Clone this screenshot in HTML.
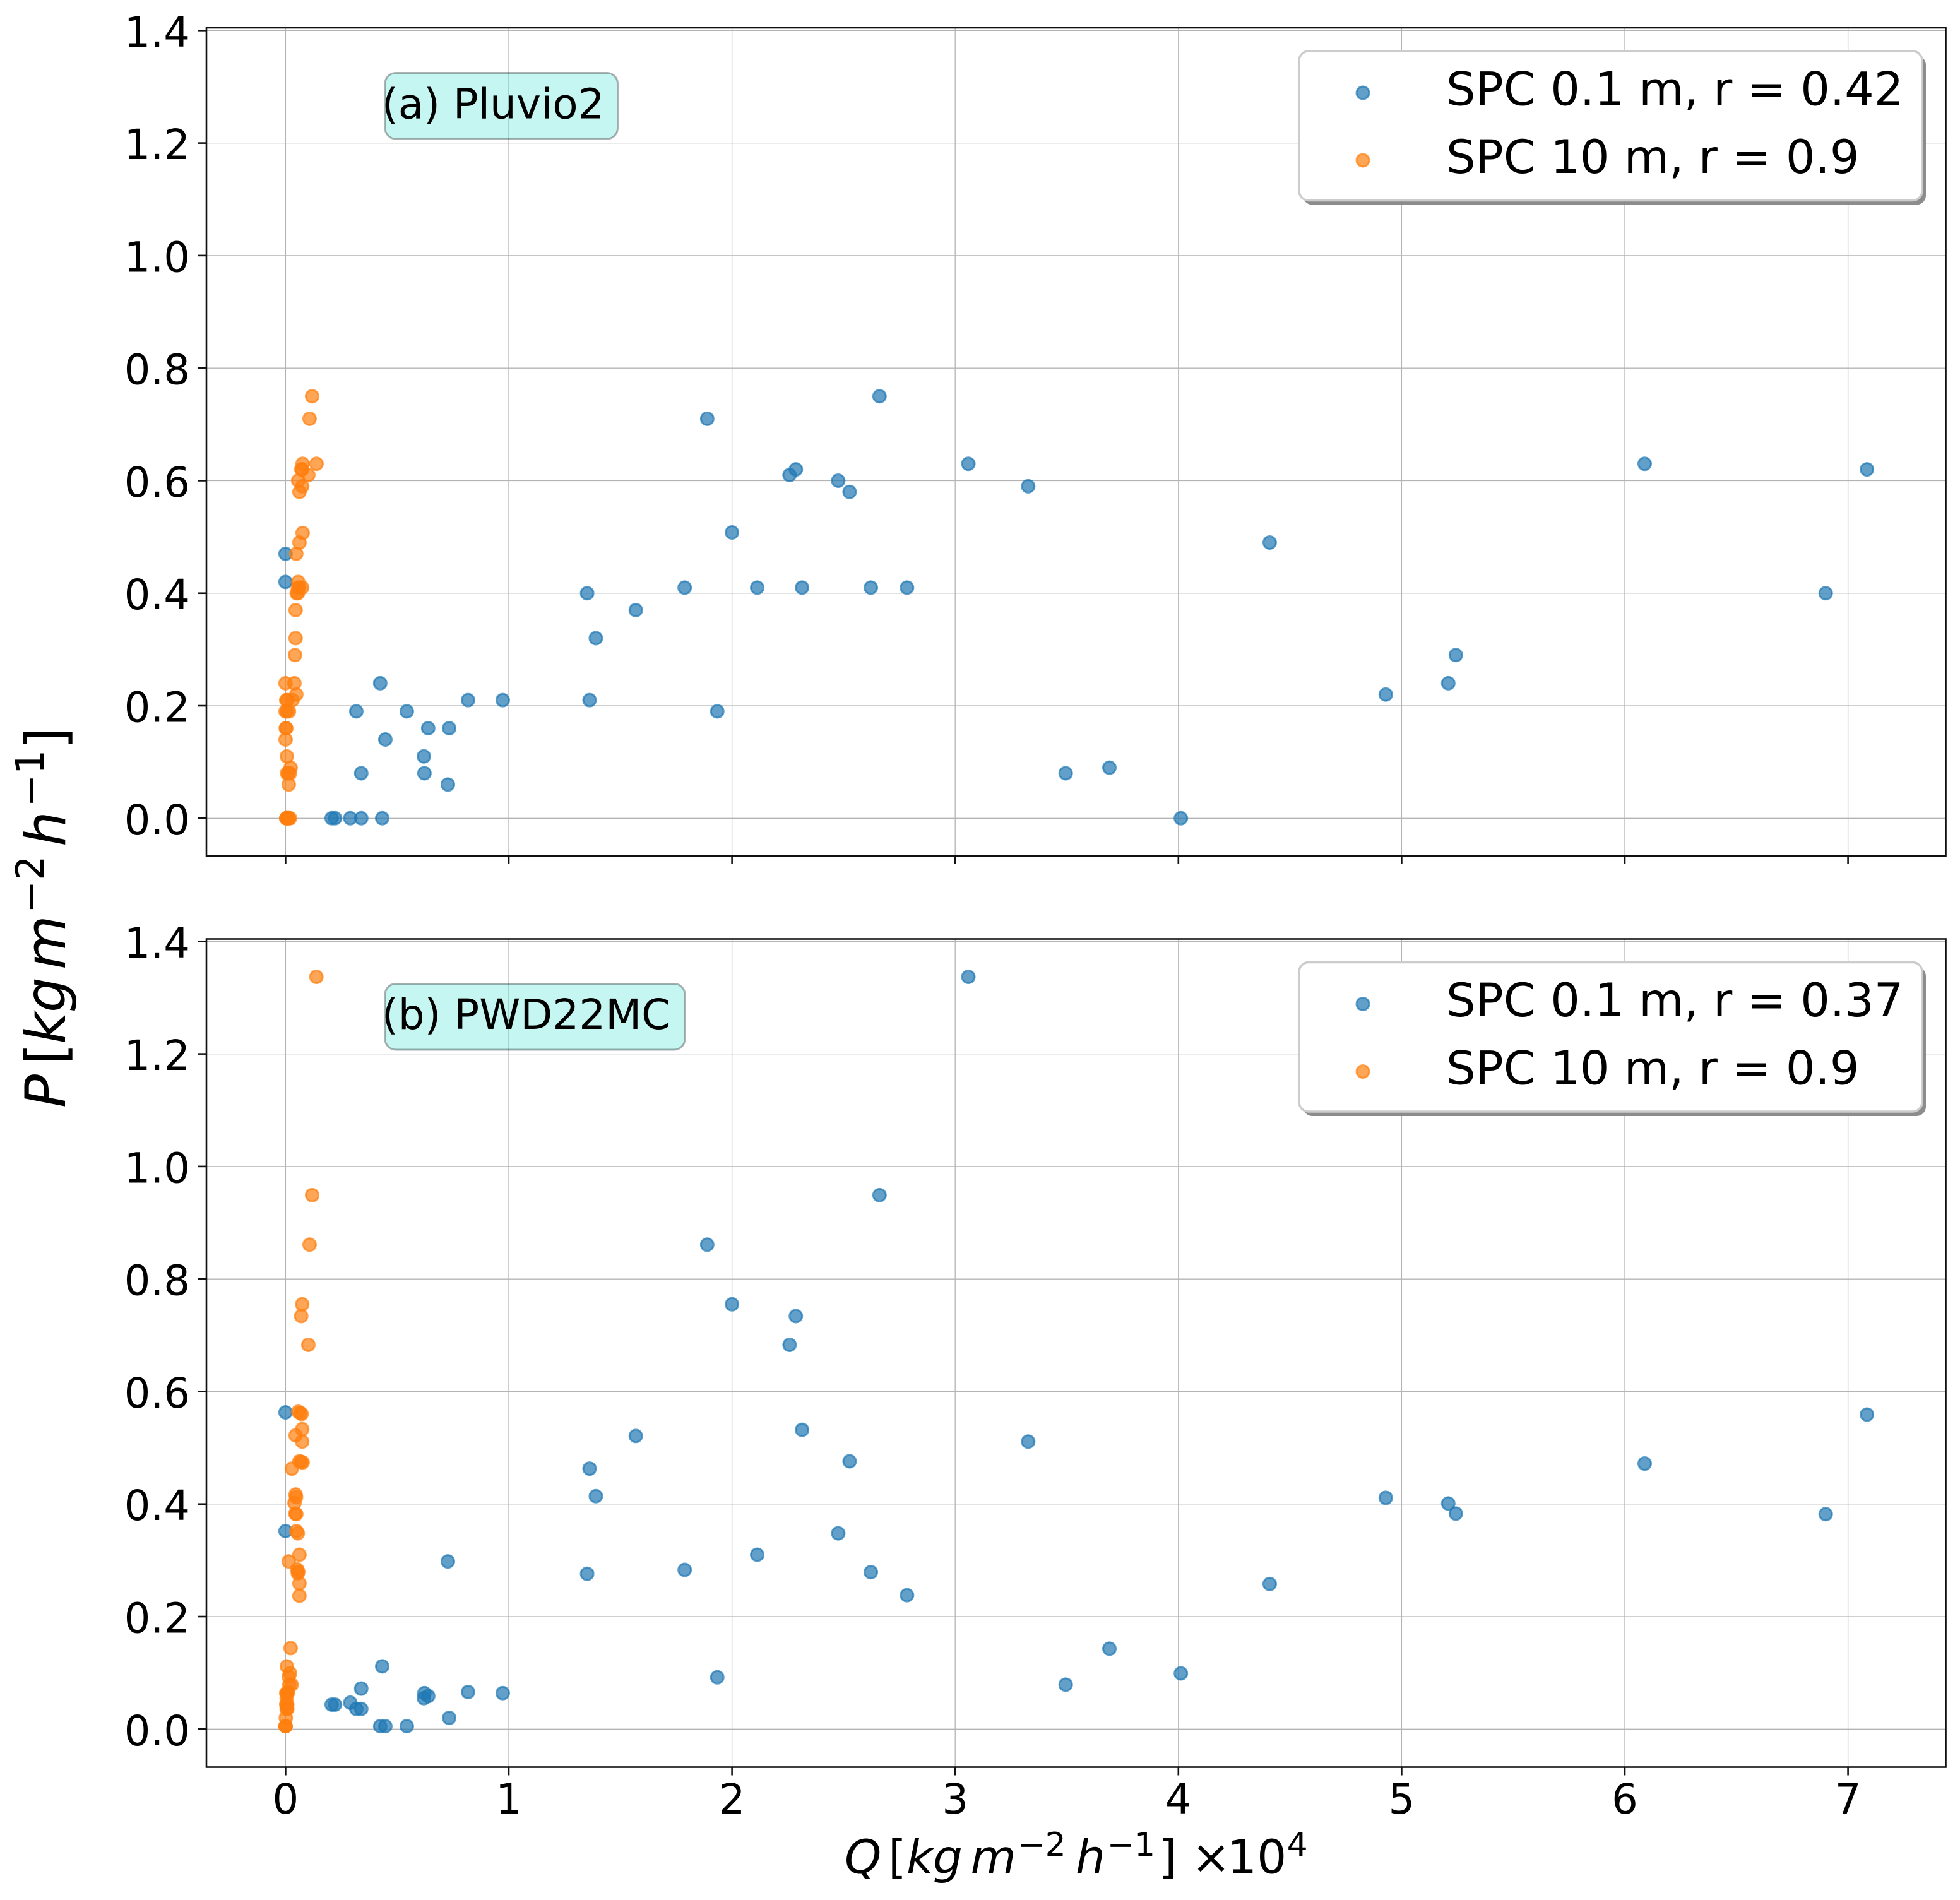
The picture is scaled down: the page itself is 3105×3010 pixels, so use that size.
<!DOCTYPE html>
<html>
<head>
<meta charset="utf-8">
<title>Precipitation vs snow flux</title>
<style>
html,body{margin:0;padding:0;background:#fff;}
svg{display:block;}
text{font-family:"DejaVu Sans","Liberation Sans",sans-serif;fill:#000;}
.it{font-style:italic;}
.lg{font-size:73.3px;}
.tag{font-size:66px;}
.yl{font-size:88px;}
.ys{font-size:61.6px;}
.xl{font-size:74px;}
.xs{font-size:52px;}
</style>
</head>
<body>
<svg id="fig" xmlns="http://www.w3.org/2000/svg" width="3105" height="3010" viewBox="0 0 3105 3010">
<rect width="3105" height="3010" fill="#fff"/>

<g id="panel-a">
  <g id="a-grid"></g>
  <g id="a-marks"></g>
  <rect x="327" y="44" width="2755.5" height="1312" fill="none" stroke="#111" stroke-width="2.6"/>
  <g id="a-ticks"></g>
  <g>
    <rect x="610" y="115.5" width="368.5" height="104.5" rx="17" fill="#40e0d0" fill-opacity="0.3" stroke="#000" stroke-opacity="0.3" stroke-width="3"/>
    <text class="tag" x="605" y="187.5">(a) Pluvio2</text>
  </g>
  <g>
    <rect x="2064" y="88" width="987" height="236.5" rx="15" fill="#808080" fill-opacity="0.9"/>
    <rect x="2058" y="81" width="987" height="236.5" rx="15" fill="#fff" stroke="#ccc" stroke-width="3.4"/>
    <circle cx="2159" cy="147" r="10" fill="#1f77b4" fill-opacity="0.7" stroke="#1f77b4" stroke-opacity="0.7" stroke-width="3"/>
    <text class="lg" x="2291" y="166.7">SPC 0.1 m, r = 0.42</text>
    <circle cx="2159" cy="254" r="10" fill="#ff7f0e" fill-opacity="0.7" stroke="#ff7f0e" stroke-opacity="0.7" stroke-width="3"/>
    <text class="lg" x="2291" y="274">SPC 10 m, r = 0.9</text>
  </g>
</g>

<g id="panel-b">
  <g id="b-grid"></g>
  <g id="b-marks"></g>
  <rect x="327" y="1487.5" width="2755.5" height="1312" fill="none" stroke="#111" stroke-width="2.6"/>
  <g id="b-ticks"></g>
  <g>
    <rect x="610" y="1558.5" width="475" height="104.5" rx="17" fill="#40e0d0" fill-opacity="0.3" stroke="#000" stroke-opacity="0.3" stroke-width="3"/>
    <text class="tag" x="605" y="1630">(b) PWD22MC</text>
  </g>
  <g>
    <rect x="2064" y="1531.5" width="987" height="236.5" rx="15" fill="#808080" fill-opacity="0.9"/>
    <rect x="2058" y="1524.5" width="987" height="236.5" rx="15" fill="#fff" stroke="#ccc" stroke-width="3.4"/>
    <circle cx="2159" cy="1590.5" r="10" fill="#1f77b4" fill-opacity="0.7" stroke="#1f77b4" stroke-opacity="0.7" stroke-width="3"/>
    <text class="lg" x="2291" y="1610.2">SPC 0.1 m, r = 0.37</text>
    <circle cx="2159" cy="1697.5" r="10" fill="#ff7f0e" fill-opacity="0.7" stroke="#ff7f0e" stroke-opacity="0.7" stroke-width="3"/>
    <text class="lg" x="2291" y="1717.5">SPC 10 m, r = 0.9</text>
  </g>
</g>

<g transform="rotate(-90)">
  <text class="yl it" x="-1755" y="103">P</text>
  <text class="yl" x="-1687" y="103">[</text>
  <text class="yl it" x="-1654" y="103">k</text>
  <text class="yl it" x="-1604" y="103">g</text>
  <text class="yl it" x="-1536" y="103">m</text>
  <text class="ys" x="-1446.6" y="69">−</text>
  <text class="ys" x="-1394.7" y="69">2</text>
  <text class="yl it" x="-1341" y="103">h</text>
  <text class="ys" x="-1278.4" y="69">−</text>
  <text class="ys" x="-1227" y="69">1</text>
  <text class="yl" x="-1186.5" y="103">]</text>
</g>

<g>
  <text class="xl it" x="1338" y="2967.7">Q</text>
  <text class="xl" x="1407" y="2967.7">[</text>
  <text class="xl it" x="1436" y="2967.7">k</text>
  <text class="xl it" x="1478" y="2967.7">g</text>
  <text class="xl it" x="1537.5" y="2967.7">m</text>
  <text class="xs" x="1612" y="2940">−</text>
  <text class="xs" x="1655.6" y="2940">2</text>
  <text class="xl it" x="1704" y="2967.7">h</text>
  <text class="xs" x="1753.8" y="2940">−</text>
  <text class="xs" x="1797" y="2940">1</text>
  <text class="xl" x="1835.6" y="2967.7">]</text>
  <text class="xl" x="1887.5" y="2967.7">×</text>
  <text class="xl" x="1944" y="2967.7">10</text>
  <text class="xs" x="2038.6" y="2940">4</text>
</g>
</svg>

<script>
var xTickValues = [0, 1, 2, 3, 4, 5, 6, 7];
var yTickValues = [0, 0.2, 0.4, 0.6, 0.8, 1.0, 1.2, 1.4];
var xTickLabels = ["0", "1", "2", "3", "4", "5", "6", "7"];
var yTickLabels = ["0.0", "0.2", "0.4", "0.6", "0.8", "1.0", "1.2", "1.4"];

var qSpc01 = [0, 0, 0.2065, 0.2216, 0.29, 0.339, 0.433, 0.424, 0.8175, 0.973, 0.317, 0.543, 0.639, 0.733, 0.447, 0.6195, 0.339, 0.622, 0.727,
  1.351, 1.39, 1.362, 1.569, 1.788, 1.889, 1.934, 2.0, 2.113, 2.258, 2.286, 2.314, 2.476, 2.527, 2.622, 2.661, 2.784, 3.059, 3.327, 3.495, 3.691, 4.011, 4.409, 4.929, 5.209, 5.243, 6.089, 6.9, 7.085];
var pPluvioSpc01 = [0.47, 0.42, 0, 0, 0, 0, 0, 0.24, 0.21, 0.21, 0.19, 0.19, 0.16, 0.16, 0.14, 0.11, 0.08, 0.08, 0.06,
  0.40, 0.32, 0.21, 0.37, 0.41, 0.71, 0.19, 0.508, 0.41, 0.61, 0.62, 0.41, 0.60, 0.58, 0.41, 0.75, 0.41, 0.63, 0.59, 0.08, 0.09, 0, 0.49, 0.22, 0.24, 0.29, 0.63, 0.40, 0.62];
var pPwdSpc01 = [0.563, 0.352, 0.0435, 0.0435, 0.047, 0.036, 0.1115, 0.0053, 0.066, 0.064, 0.036, 0.0053, 0.0587, 0.02, 0.0053, 0.055, 0.072, 0.064, 0.298,
  0.276, 0.414, 0.463, 0.521, 0.283, 0.861, 0.092, 0.755, 0.31, 0.683, 0.734, 0.532, 0.348, 0.476, 0.279, 0.949, 0.238, 1.337, 0.511, 0.079, 0.143, 0.099, 0.258, 0.411, 0.401, 0.383, 0.472, 0.382, 0.559];

var qPluvioSpc10 = [0.119, 0.1075, 0.1386, 0.0764, 0.0707, 0.0745, 0.102, 0.0566, 0.0745, 0.0622, 0.0764, 0.0622, 0.048, 0.0566, 0.0745, 0.061, 0.055, 0.05, 0.055, 0.045, 0.045, 0.0424, 0, 0.0396, 0.048, 0.003, 0.008, 0.031, 0, 0.005, 0.015, 0.001, 0.003, 0, 0.0057, 0.0226, 0.0066, 0.0198, 0.012, 0.0141, 0.003, 0.0075, 0.012, 0.02, 0.003, 0.005, 0.009, 0.015];
var pPluvioSpc10 = [0.75, 0.71, 0.63, 0.63, 0.62, 0.62, 0.61, 0.60, 0.59, 0.58, 0.507, 0.49, 0.47, 0.42, 0.41, 0.41, 0.41, 0.40, 0.40, 0.37, 0.32, 0.29, 0.24, 0.24, 0.22, 0.21, 0.21, 0.21, 0.19, 0.19, 0.19, 0.16, 0.16, 0.14, 0.11, 0.09, 0.08, 0.08, 0.08, 0.06, 0, 0, 0, 0, 0, 0, 0, 0];

var qPwdSpc10 = [0.138, 0.119, 0.1075, 0.0745, 0.07, 0.102, 0.0566, 0.0717, 0.066, 0.0745, 0.045, 0.0745, 0.062, 0.0764, 0.07, 0.028, 0.045, 0.047, 0.04, 0.044, 0.048, 0.049, 0.0547, 0.062, 0.014, 0.052, 0.0566, 0.055, 0.062, 0.062, 0.0226, 0.0057, 0.02, 0.014, 0.017, 0.027, 0.0075, 0.003, 0.012, 0.005, 0.003, 0.0075, 0.005, 0.0075, 0.001, 0, 0, 0];
var pPwdSpc10 = [1.337, 0.949, 0.861, 0.755, 0.734, 0.683, 0.564, 0.56, 0.562, 0.533, 0.522, 0.511, 0.476, 0.474, 0.475, 0.463, 0.417, 0.412, 0.402, 0.383, 0.382, 0.352, 0.348, 0.31, 0.298, 0.284, 0.28, 0.277, 0.259, 0.237, 0.144, 0.1115, 0.0995, 0.093, 0.079, 0.079, 0.064, 0.064, 0.066, 0.055, 0.044, 0.044, 0.036, 0.036, 0.02, 0.0053, 0.0053, 0.0053];

var SVGNS = "http://www.w3.org/2000/svg";
var PLOT_LEFT = 327, PLOT_RIGHT = 3082.5;
var X_ORIGIN = 452.4, X_PER_UNIT = 353.6, Y_PER_UNIT = 891.4;

function xScale(q) { return X_ORIGIN + X_PER_UNIT * q; }
function yScaleFor(zeroY) { return function (p) { return zeroY - Y_PER_UNIT * p; }; }

function addLine(parent, x1, y1, x2, y2, stroke, width) {
  var l = document.createElementNS(SVGNS, "line");
  l.setAttribute("x1", x1);
  l.setAttribute("y1", y1);
  l.setAttribute("x2", x2);
  l.setAttribute("y2", y2);
  l.setAttribute("stroke", stroke);
  l.setAttribute("stroke-width", width);
  parent.appendChild(l);
  return l;
}

function addPoints(parent, xs, ys, yScale, color, name) {
  for (var i = 0; i < xs.length; i++) {
    var c = document.createElementNS(SVGNS, "circle");
    c.setAttribute("cx", xScale(xs[i]));
    c.setAttribute("cy", yScale(ys[i]));
    c.setAttribute("r", 10);
    c.setAttribute("fill", color);
    c.setAttribute("fill-opacity", 0.7);
    c.setAttribute("stroke", color);
    c.setAttribute("stroke-opacity", 0.7);
    c.setAttribute("stroke-width", 3);
    
    
    parent.appendChild(c);
  }
}

function drawAxes(prefix, top, bottom, yScale, showXLabels) {
  var grid = document.getElementById(prefix + "-grid");
  var ticks = document.getElementById(prefix + "-ticks");
  xTickValues.forEach(function (v, i) {
    var x = xScale(v);
    var g = addLine(grid, x, top, x, bottom, "#b4b4b4", 1.3);
    
    
    var t = addLine(ticks, x, bottom, x, bottom + 13, "#111", 2.6);
    
    
    if (showXLabels) {
      var lab = document.createElementNS(SVGNS, "text");
      lab.setAttribute("x", x);
      lab.setAttribute("y", bottom + 73.5);
      lab.setAttribute("text-anchor", "middle");
      lab.setAttribute("font-size", "65.6");
      
      
      lab.textContent = xTickLabels[i];
      ticks.appendChild(lab);
    }
  });
  yTickValues.forEach(function (v, i) {
    var y = yScale(v);
    var g = addLine(grid, PLOT_LEFT, y, PLOT_RIGHT, y, "#b4b4b4", 1.3);
    
    
    var t = addLine(ticks, PLOT_LEFT - 13, y, PLOT_LEFT, y, "#111", 2.6);
    
    
    var lab = document.createElementNS(SVGNS, "text");
    lab.setAttribute("x", 301);
    lab.setAttribute("y", y + 25.5);
    lab.setAttribute("text-anchor", "end");
    lab.setAttribute("font-size", "65.6");
    
    
    lab.textContent = yTickLabels[i];
    ticks.appendChild(lab);
  });
}

var yA = yScaleFor(1296.3);
var yB = yScaleFor(2739.3);
drawAxes("a", 44, 1356, yA, false);
drawAxes("b", 1487.5, 2799.5, yB, true);
addPoints(document.getElementById("a-marks"), qSpc01, pPluvioSpc01, yA, "#1f77b4", "point-spc-0-1");
addPoints(document.getElementById("a-marks"), qPluvioSpc10, pPluvioSpc10, yA, "#ff7f0e", "point-spc-10");
addPoints(document.getElementById("b-marks"), qSpc01, pPwdSpc01, yB, "#1f77b4", "point-spc-0-1");
addPoints(document.getElementById("b-marks"), qPwdSpc10, pPwdSpc10, yB, "#ff7f0e", "point-spc-10");
</script>
</body>
</html>
